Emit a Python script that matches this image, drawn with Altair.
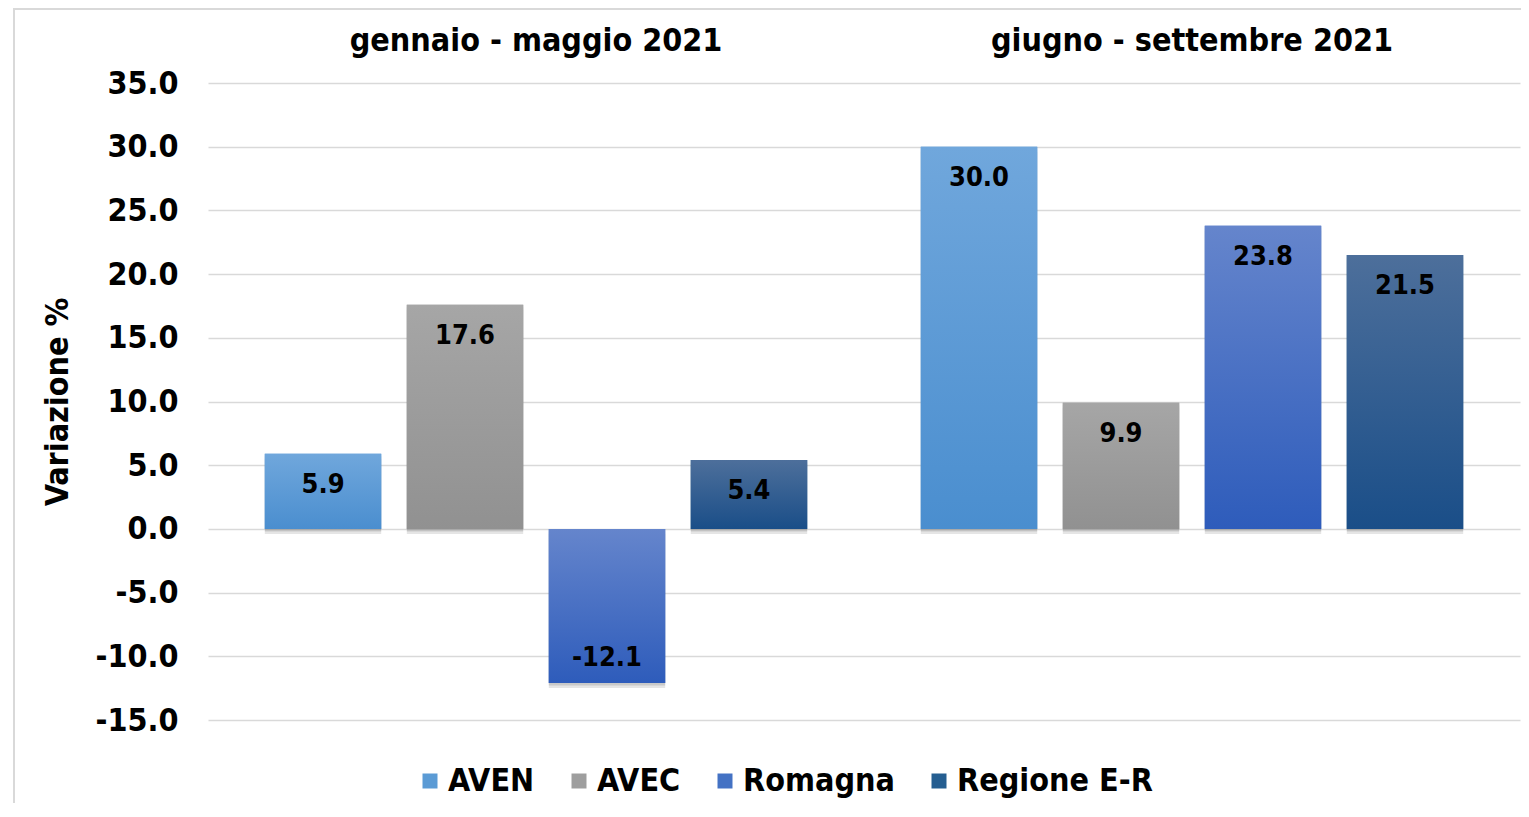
import altair as alt
import pandas as pd

periods = ["gennaio - maggio 2021", "giugno - settembre 2021"]
series = ["AVEN", "AVEC", "Romagna", "Regione E-R"]
values_gen_mag = [5.9, 17.6, -12.1, 5.4]
values_giu_set = [30.0, 9.9, 23.8, 21.5]

legend_colors = ["#5B9BD5", "#9E9E9E", "#4472C4", "#255E91"]
grad_top = ["#70A7DC", "#A6A6A6", "#6585CC", "#4D6F9B"]
grad_bottom = ["#4A8ECF", "#919191", "#2E5CBB", "#1A4E88"]

rows = []
for s, v in zip(series, values_gen_mag):
    rows.append({"period": periods[0], "series": s, "value": v})
for s, v in zip(series, values_giu_set):
    rows.append({"period": periods[1], "series": s, "value": v})
df = pd.DataFrame(rows)

FONT = "DejaVu Sans Condensed"
FS = 32

x_enc = alt.X(
    "period:N",
    scale=alt.Scale(domain=periods, paddingInner=0, paddingOuter=0),
    axis=alt.Axis(
        orient="top", title=None, labelAngle=0, ticks=False, tickSize=0, domain=False,
        labelFont=FONT, labelFontSize=FS, labelFontWeight="bold", labelColor="black",
        labelPadding=33, labelBaseline="alphabetic", labelLimit=0,
    ),
)
xo_enc = alt.XOffset(
    "series:N",
    scale=alt.Scale(domain=series, paddingInner=0.18, paddingOuter=0.4),
)
y_enc = alt.Y(
    "value:Q",
    scale=alt.Scale(domain=[-15, 35], nice=False, zero=False),
    axis=alt.Axis(
        values=[-15, -10, -5, 0, 5, 10, 15, 20, 25, 30, 35],
        labelExpr="(datum.value < 0 ? '-' : '') + format(abs(datum.value), '.1f')",
        title="Variazione %", titleFont=FONT, titleFontSize=FS, titleFontWeight="bold",
        titleColor="black", titlePadding=21,
        labelFont=FONT, labelFontSize=FS, labelFontWeight="bold", labelColor="black",
        labelPadding=30, ticks=False, tickSize=0, domain=False,
        grid=True, gridColor="#D9D9D9", gridWidth=1.5,
    ),
)

base = alt.Chart(df).transform_calculate(
    label="(datum.value < 0 ? '-' : '') + format(abs(datum.value), '.1f')"
).encode(x=x_enc, xOffset=xo_enc, y=y_enc)

shadow1 = base.mark_bar(color="#000000", opacity=0.10, yOffset=5, xOffset=2)
shadow2 = base.mark_bar(color="#000000", opacity=0.12, yOffset=2.5, xOffset=1)

solid = base.mark_bar().encode(
    color=alt.Color(
        "series:N",
        scale=alt.Scale(domain=series, range=legend_colors),
        legend=alt.Legend(
            title=None, orient="none", direction="horizontal",
            legendX=206, legendY=682, padding=0,
            symbolType="square", symbolSize=225, symbolStrokeWidth=0, symbolOpacity=1,
            labelFont=FONT, labelFontSize=FS, labelFontWeight="bold", labelColor="black",
            labelOffset=2, columnPadding=28, labelLimit=0,
        ),
    )
)

grad_layers = []
for s, ct, cb in zip(series, grad_top, grad_bottom):
    grad_layers.append(
        base.transform_filter(alt.datum.series == s).mark_bar(
            color=alt.Gradient(
                gradient="linear",
                stops=[alt.GradientStop(color=ct, offset=0), alt.GradientStop(color=cb, offset=1)],
                x1=0, x2=0, y1=0, y2=1,
            )
        )
    )

text_pos = base.transform_filter(alt.datum.value >= 0).mark_text(
    font=FONT, fontSize=27, fontWeight="bold", color="black", dy=31, baseline="middle"
).encode(text="label:N")
text_neg = base.transform_filter(alt.datum.value < 0).mark_text(
    font=FONT, fontSize=27, fontWeight="bold", color="black", dy=-25, baseline="middle"
).encode(text="label:N")

border = alt.Chart(pd.DataFrame({"b": [0]})).mark_rect(
    fill="transparent", stroke="#D9D9D9", strokeWidth=2
).encode(x=alt.value(-194), x2=alt.value(1330), y=alt.value(-74), y2=alt.value(760))

chart = alt.layer(
    border, shadow1, shadow2, solid, *grad_layers, text_pos, text_neg
).properties(
    width=1312, height=637,
    autosize=alt.AutoSizeParams(type="none"),
    padding={"left": 200, "top": 75, "right": 1, "bottom": 83},
).configure_view(stroke=None)

chart.save("out.html", embed_options={"renderer": "svg", "actions": False})
